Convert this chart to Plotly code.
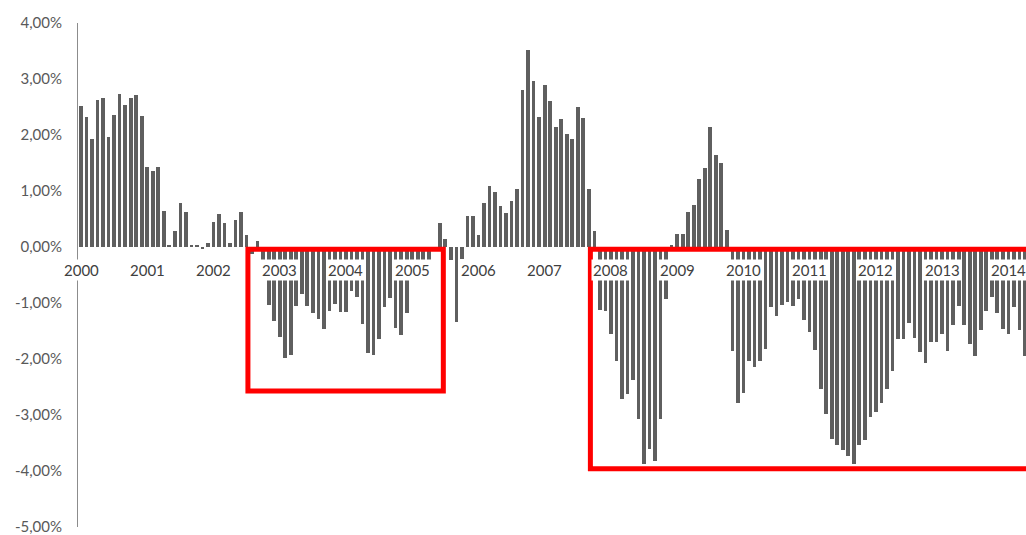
import plotly.graph_objects as go

# Monthly values (%), Jan..Dec per year
years = list(range(2000, 2015))
v2000 = [2.52, 2.32, 1.92, 2.63, 2.66, 1.96, 2.36, 2.74, 2.54, 2.66, 2.72, 2.34]
v2001 = [1.43, 1.35, 1.43, 0.65, 0.04, 0.28, 0.79, 0.62, 0.04, 0.03, -0.04, 0.08]
v2002 = [0.44, 0.59, 0.43, 0.07, 0.49, 0.62, 0.21, -0.12, 0.10, -0.45, -1.03, -1.32]
v2003 = [-1.60, -1.99, -1.92, -1.06, -0.84, -1.06, -1.18, -1.28, -1.46, -1.14, -1.01, -1.16]
v2004 = [-1.16, -0.78, -0.90, -1.38, -1.90, -1.92, -1.64, -1.07, -0.91, -1.44, -1.58, -1.17]
v2005 = [-0.30, -0.30, -0.30, -0.30, -0.02, 0.43, 0.14, -0.23, -1.34, -0.21, 0.55, 0.55]
v2006 = [0.21, 0.79, 1.09, 0.99, 0.73, 0.61, 0.83, 1.03, 2.81, 3.51, 2.97, 2.32]
v2007 = [2.90, 2.60, 2.14, 2.28, 2.02, 1.92, 2.50, 2.30, 1.04, 0.28, -1.12, -1.14]
v2008 = [-1.55, -2.04, -2.72, -2.62, -2.38, -3.08, -3.88, -3.60, -3.83, -3.07, -0.93, 0.03]
v2009 = [0.23, 0.23, 0.63, 0.75, 1.21, 1.41, 2.14, 1.65, 1.50, 0.31, -1.85, -2.78]
v2010 = [-2.60, -2.04, -2.14, -2.04, -1.83, -1.08, -1.23, -1.04, -0.99, -1.05, -0.93, -1.30]
v2011 = [-1.51, -1.84, -2.54, -2.98, -3.43, -3.53, -3.62, -3.74, -3.87, -3.53, -3.45, -3.03]
v2012 = [-2.95, -2.78, -2.54, -2.21, -1.65, -1.64, -1.36, -1.63, -1.88, -2.08, -1.70, -1.70]
v2013 = [-1.55, -1.86, -1.40, -1.05, -1.40, -1.74, -1.94, -1.49, -1.15, -0.90, -1.17, -1.46]
v2014 = [-1.55, -1.07, -1.49, -1.94]

yearly = [v2000, v2001, v2002, v2003, v2004, v2005, v2006, v2007,
          v2008, v2009, v2010, v2011, v2012, v2013, v2014]

y_tickvals = [4, 3, 2, 1, 0, -1, -2, -3, -4, -5]
y_ticktext = ["4,00%", "3,00%", "2,00%", "1,00%", "0,00%",
              "-1,00%", "-2,00%", "-3,00%", "-4,00%", "-5,00%"]

# Highlighted periods (fractional years, value bounds in %)
highlights = [
    (2002.52, 2005.47, -0.04, -2.57),
    (2007.69, 2015.00, -0.04, -3.96),
]

xs, ys = [], []
for yr, vals in zip(years, yearly):
    for m, v in enumerate(vals):
        xs.append(yr + m / 12.0)
        ys.append(v)

fig = go.Figure()
fig.add_trace(go.Bar(x=xs, y=ys, marker=dict(color="#5f5f5f", line=dict(width=0)),
                     width=0.67 / 12, showlegend=False))

FONT = "Lato"
x0 = 2000 - 3 / 66.24
x1 = x0 + 948 / 66.24

fig.update_layout(
    width=1026, height=535,
    margin=dict(l=78, r=0, t=23, b=8),
    plot_bgcolor="white", paper_bgcolor="white",
    font=dict(family=FONT, size=15, color="#595959"),
    xaxis=dict(range=[x0, x1], showticklabels=False, showgrid=False,
               zeroline=False, showline=False, ticks=""),
    yaxis=dict(range=[-5, 4], tickvals=y_tickvals, ticktext=y_ticktext,
               showgrid=False, zeroline=False, showline=True,
               linecolor="#8c8c8c", linewidth=1, ticks="",
               ticklabelstandoff=12, ticklabeloverflow="allow",
               tickfont=dict(family=FONT, size=15, color="#595959")),
    bargap=0,
)

for yr in years:
    fig.add_annotation(x=yr, y=0, xref="x", yref="y", text=str(yr),
                       showarrow=False, yanchor="middle", yshift=-23,
                       bgcolor="white", borderpad=1,
                       font=dict(family=FONT, size=15, color="#404040"))

for (hx0, hx1, hy0, hy1) in highlights:
    fig.add_shape(type="rect", xref="x", yref="y", x0=hx0, x1=hx1, y0=hy0, y1=hy1,
                  line=dict(color="#ff0000", width=5), fillcolor="rgba(0,0,0,0)")

fig.write_html("out.html")
